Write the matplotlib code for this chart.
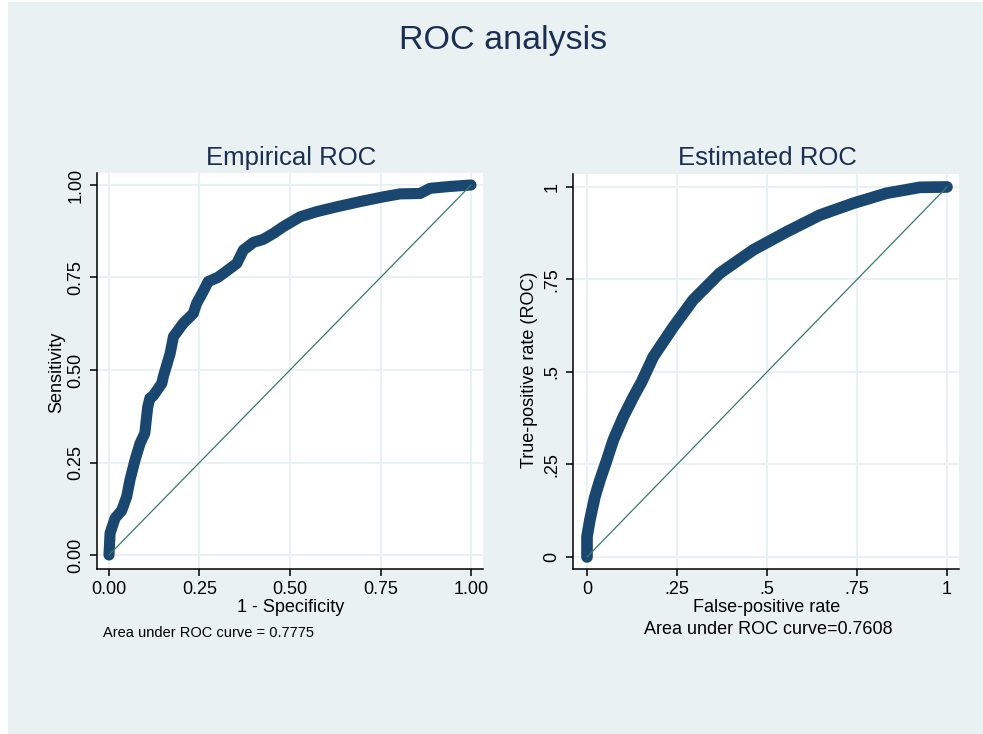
import matplotlib
matplotlib.use("Agg")
import matplotlib.pyplot as plt
from matplotlib.patches import Rectangle

plt.rcParams['font.family'] = ['Liberation Sans', 'DejaVu Sans']

# ---- data ----
emp_fpr = [0.0, 0.003, 0.017, 0.035, 0.049, 0.058, 0.072, 0.086, 0.099, 0.104, 0.107,
           0.113, 0.122, 0.146, 0.150, 0.169, 0.178, 0.205, 0.233, 0.242, 0.260, 0.274,
           0.300, 0.316, 0.353, 0.371, 0.399, 0.426, 0.454, 0.481, 0.528, 0.574, 0.629,
           0.693, 0.758, 0.804, 0.859, 0.887, 0.942, 1.0]
emp_tpr = [0.0, 0.059, 0.100, 0.120, 0.158, 0.203, 0.257, 0.302, 0.329, 0.374, 0.400,
           0.424, 0.430, 0.464, 0.482, 0.545, 0.590, 0.626, 0.653, 0.680, 0.712, 0.739,
           0.750, 0.761, 0.788, 0.824, 0.845, 0.853, 0.869, 0.887, 0.914, 0.928, 0.941,
           0.955, 0.968, 0.976, 0.977, 0.991, 0.996, 1.0]

est_fpr = [0.0, 0.0, 0.008, 0.022, 0.036, 0.055, 0.073, 0.101, 0.129, 0.152, 0.184,
           0.240, 0.295, 0.369, 0.462, 0.555, 0.647, 0.740, 0.832, 0.925, 1.0]
est_tpr = [0.0, 0.055, 0.100, 0.163, 0.208, 0.262, 0.316, 0.379, 0.433, 0.474, 0.541,
           0.622, 0.695, 0.767, 0.830, 0.879, 0.924, 0.956, 0.983, 0.999, 1.0]

ref_line = [0.0, 1.0]

left_ticks = [0.0, 0.25, 0.5, 0.75, 1.0]
left_ticklabels = ['0.00', '0.25', '0.50', '0.75', '1.00']
right_ticklabels = ['0', '.25', '.5', '.75', '1']

main_title = 'ROC analysis'
titles = ['Empirical ROC', 'Estimated ROC']
xlabels = ['1 - Specificity', 'False-positive rate']
ylabels = ['Sensitivity', 'True-positive rate (ROC)']
auc_emp = 'Area under ROC curve = 0.7775'
auc_est = 'Area under ROC curve=0.7608'

# ---- styling ----
W, H = 983, 734
BG = '#e9f1f3'
NAVY = '#1a476f'
DIAG = '#3a7866'
TITLE_C = '#1c2e52'

fig = plt.figure(figsize=(W / 100, H / 100), dpi=100)
fig.patch.set_facecolor('white')
fig.add_artist(Rectangle((8 / W, 0), 1 - 8 / W, 1 - 2 / H, transform=fig.transFigure,
                         facecolor=BG, edgecolor='none', zorder=-10))


def fx(px):
    return px / W


def fy(py):
    return 1 - py / H


def make_axes(l, r, t, b, xlim, ylim, xlab, ylab):
    ax = fig.add_axes([fx(l), fy(b), fx(r) - fx(l), fy(t) - fy(b)])
    ax.set_facecolor('white')
    ax.set_xlim(*xlim)
    ax.set_ylim(*ylim)
    for s in ['top', 'right']:
        ax.spines[s].set_visible(False)
    for s in ['left', 'bottom']:
        ax.spines[s].set_linewidth(1.1)
        ax.spines[s].set_color('black')
    ax.set_xticks(left_ticks)
    ax.set_yticks(left_ticks)
    ax.set_xticklabels(xlab, fontsize=13)
    ax.set_yticklabels(ylab, fontsize=13, rotation=90, va='center')
    ax.tick_params(axis='both', direction='out', length=5, width=1.1, color='black')
    ax.tick_params(axis='x', pad=4)
    ax.tick_params(axis='y', pad=4)
    ax.grid(True, color=BG, linewidth=1.4)
    ax.set_axisbelow(True)
    return ax


ax1 = make_axes(97, 483, 173, 569, (-0.0331, 1.0331), (-0.0378, 1.0324),
                left_ticklabels, left_ticklabels)
ax1.plot(emp_fpr, emp_tpr, color=NAVY, linewidth=8.0, solid_capstyle='round',
         solid_joinstyle='round', zorder=3)
ax1.plot(ref_line, ref_line, color=DIAG, linewidth=0.9, zorder=4)

ax2 = make_axes(573, 959, 174, 569, (-0.0389, 1.0333), (-0.0324, 1.035),
                right_ticklabels, right_ticklabels)
ax2.plot(est_fpr, est_tpr, color=NAVY, linewidth=8.4, solid_capstyle='round',
         solid_joinstyle='round', zorder=3)
ax2.plot(ref_line, ref_line, color=DIAG, linewidth=0.9, zorder=4)

# titles
fig.text(fx(503), fy(40), main_title, fontsize=24.5, color=TITLE_C, ha='center', va='center')
fig.text(fx(291), fy(158), titles[0], fontsize=18.5, color=TITLE_C, ha='center', va='center')
fig.text(fx(767), fy(158), titles[1], fontsize=18.5, color=TITLE_C, ha='center', va='center')

# axis labels
fig.text(fx(291), fy(608), xlabels[0], fontsize=13, ha='center', va='center')
fig.text(fx(767), fy(608), xlabels[1], fontsize=13, ha='center', va='center')
fig.text(fx(57), fy(372), ylabels[0], fontsize=13, ha='center', va='center', rotation=90)
fig.text(fx(530), fy(370), ylabels[1], fontsize=13, ha='center', va='center', rotation=90)

# notes
fig.text(fx(103), fy(633), auc_emp, fontsize=10.5, ha='left', va='center')
fig.text(fx(768), fy(630), auc_est, fontsize=13, ha='center', va='center')

fig.savefig('out.png', dpi=100, facecolor=fig.get_facecolor())
